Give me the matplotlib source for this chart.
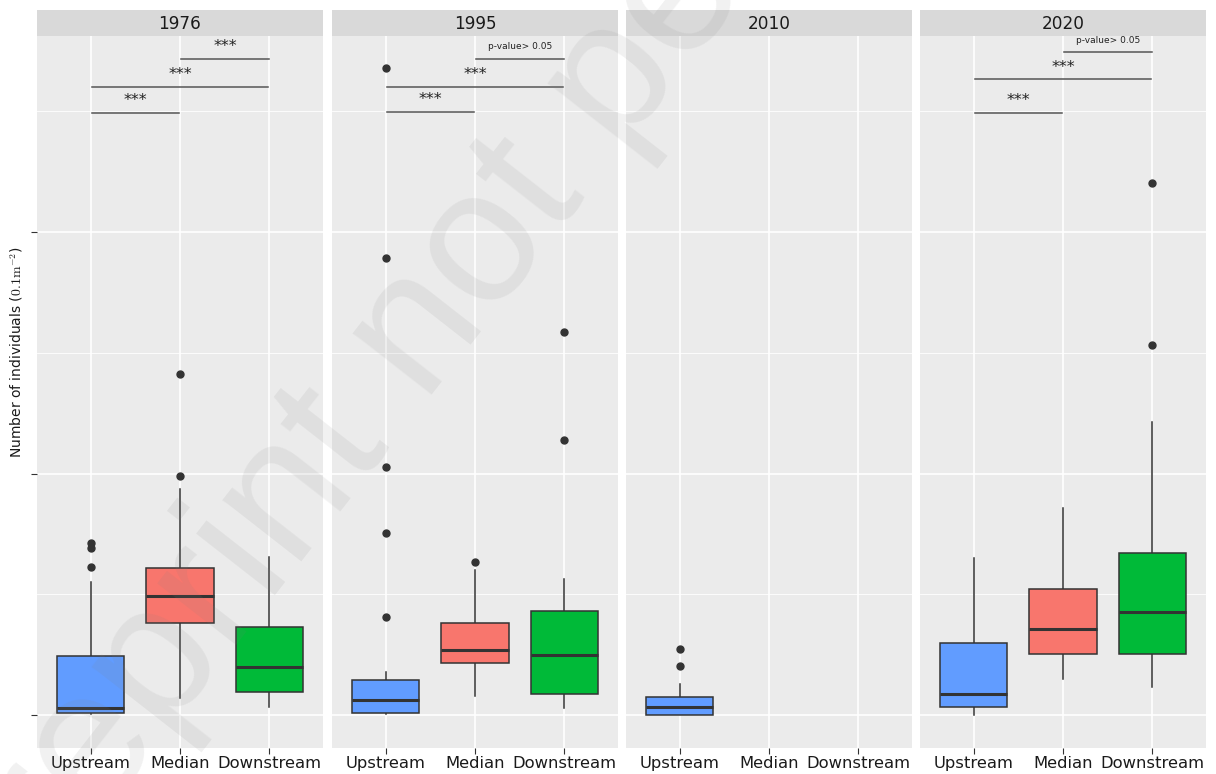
import matplotlib
matplotlib.use("Agg")
import matplotlib.pyplot as plt

# survey years and sampling sites
years = ["1976", "1995", "2010", "2020"]
sites = ["Upstream", "Median", "Downstream"]
site_colors = ["#619CFF", "#F8766D", "#00BA38"]

# box statistics per year (rows) and site (columns); None = no samples
whisker_low = [[0.2, 3.5, 1.7], [0.2, 3.9, 1.4], [0.0, None, None], [0.0, 7.5, 5.8]]
q1 = [[0.4, 19.0, 4.8], [0.4, 10.8, 4.3], [0.0, None, None], [1.7, 12.6, 12.6]]
median = [[1.4, 24.6, 9.9], [3.1, 13.5, 12.4], [1.6, None, None], [4.3, 17.8, 21.3]]
q3 = [[12.2, 30.4, 18.2], [7.2, 19.0, 21.5], [3.7, None, None], [15.0, 26.1, 33.5]]
whisker_high = [[27.5, 46.8, 32.7], [8.9, 30.0, 28.2], [6.4, None, None], [32.5, 42.9, 60.7]]
outliers = [
    [[35.6, 34.6, 30.6], [49.5, 70.6], []],
    [[20.3, 37.7, 51.3, 94.6, 134.0], [31.7], [56.9, 79.3]],
    [[10.1, 13.7], [], []],
    [[], [], [76.6, 110.1]],
]

# pairwise comparisons: (site a, site b, height, label) per year
comparisons = [
    [(0, 1, 124.6, "***"), (0, 2, 130.0, "***"), (1, 2, 135.8, "***")],
    [(0, 1, 124.8, "***"), (0, 2, 130.1, "***"), (1, 2, 135.8, "p-value> 0.05")],
    [],
    [(0, 1, 124.7, "***"), (0, 2, 131.6, "***"), (1, 2, 137.2, "p-value> 0.05")],
]

plt.rcParams["mathtext.fontset"] = "cm"

W, H = 1216, 774
fig = plt.figure(figsize=(W / 100, H / 100), dpi=100)

panel_left = [37, 332, 626, 920]
panel_w = 286
top_px, bottom_px, strip_top = 36, 748, 10
dark = "#333333"

for i, year in enumerate(years):
    x0 = panel_left[i] / W
    ax = fig.add_axes([x0, 1 - bottom_px / H, panel_w / W, (bottom_px - top_px) / H])
    ax.set_facecolor("#EBEBEB")
    for s in ax.spines.values():
        s.set_visible(False)

    stats, pos, cols = [], [], []
    for j in range(3):
        if median[i][j] is None:
            continue
        stats.append(dict(med=median[i][j], q1=q1[i][j], q3=q3[i][j],
                          whislo=whisker_low[i][j], whishi=whisker_high[i][j],
                          fliers=outliers[i][j]))
        pos.append(j + 1)
        cols.append(site_colors[j])

    bp = ax.bxp(stats, positions=pos, widths=0.75, patch_artist=True,
                showcaps=False,
                boxprops=dict(edgecolor=dark, linewidth=1.1),
                medianprops=dict(color=dark, linewidth=2.2),
                whiskerprops=dict(color=dark, linewidth=1.1),
                flierprops=dict(marker="o", markerfacecolor=dark,
                                markeredgecolor=dark, markersize=5))
    for patch, c in zip(bp["boxes"], cols):
        patch.set_facecolor(c)
        patch.set_zorder(3)
    for m in bp["medians"]:
        m.set_zorder(4)

    for a, b, h, lab in comparisons[i]:
        xa = a + 1 + 0.01
        xb = b + 1 - 0.01 if a == 0 else b + 1
        ax.plot([xa, xb], [h, h], color="#555555", lw=1.1, zorder=4)
        if lab == "***":
            ax.text((xa + xb) / 2, h + 1.0, lab, ha="center", va="bottom",
                    fontsize=11.5, color="#222222")
        else:
            ax.text((xa + xb) / 2, h + 1.6, lab, ha="center", va="bottom",
                    fontsize=6.5, color="#222222")

    ax.set_xlim(0.4, 3.6)
    ax.set_ylim(-6.8, 140.6)
    ax.set_xticks([1, 2, 3])
    ax.set_xticklabels(sites, fontsize=11.8, color="#1a1a1a")
    ax.set_yticks([0, 50, 100])
    ax.set_yticks([25, 75, 125], minor=True)
    ax.grid(True, which="major", color="white", lw=1.2, zorder=0)
    ax.grid(True, which="minor", axis="y", color="white", lw=0.6, zorder=0)
    ax.set_axisbelow(True)
    ax.tick_params(axis="x", length=4, color=dark, pad=2)
    ax.tick_params(axis="y", which="minor", length=0)
    if i == 0:
        ax.set_yticklabels([])
        ax.tick_params(axis="y", length=4, color=dark)
    else:
        ax.tick_params(axis="y", length=0, labelleft=False)

    # facet strip
    sax = fig.add_axes([x0, 1 - top_px / H, panel_w / W, (top_px - strip_top) / H])
    sax.set_facecolor("#D9D9D9")
    sax.set_xticks([])
    sax.set_yticks([])
    for s in sax.spines.values():
        s.set_visible(False)
    sax.text(0.5, 0.45, year, ha="center", va="center", fontsize=12.2,
             color="#1a1a1a", transform=sax.transAxes)

fig.text(17 / W, 1 - 352 / H, r"Number of individuals ($\mathrm{0.1m}^{-2}$)",
         rotation=90, ha="center", va="center", fontsize=10, color="#1a1a1a")

fig.text(636 / W, 1 - 54 / H, "preprint not peer reviewed", family="Liberation Sans",
         fontsize=137, rotation=52, rotation_mode="anchor", ha="center",
         va="center", color="#808080", alpha=0.11, zorder=10)

fig.savefig("out.png", dpi=100)
